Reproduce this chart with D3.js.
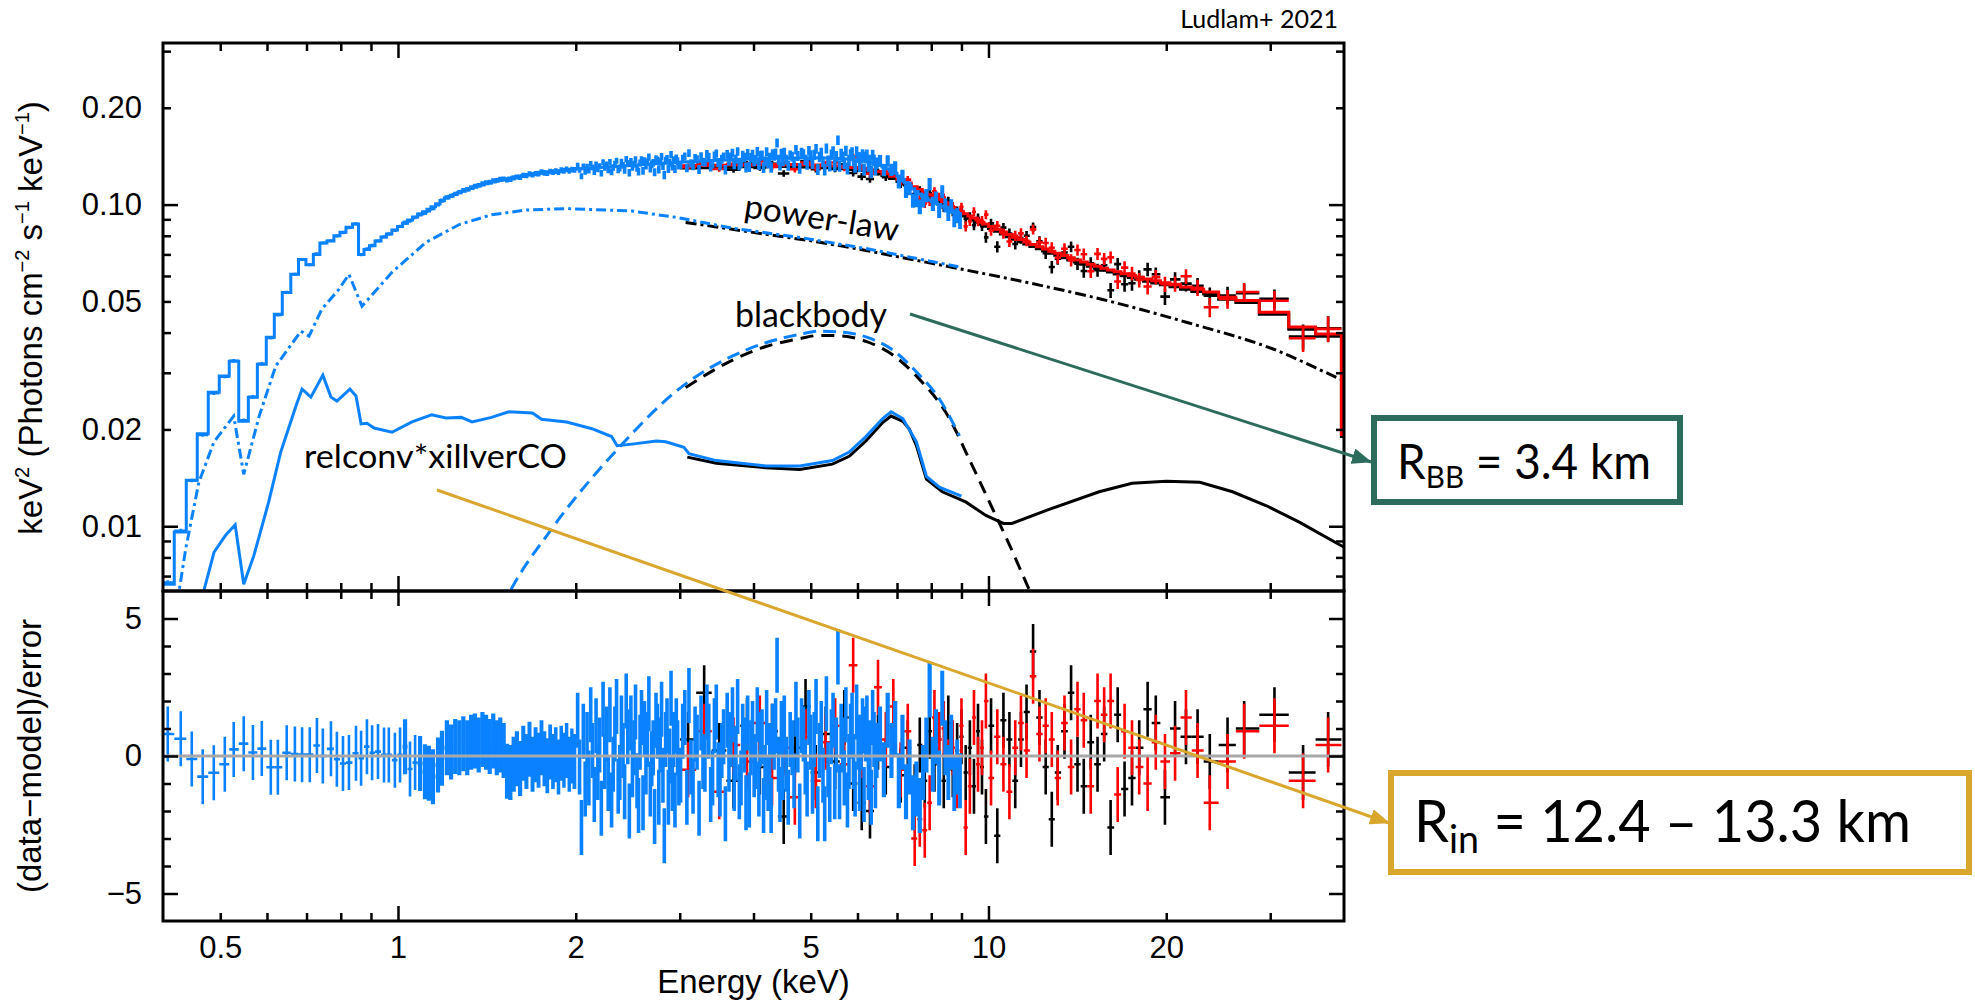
<!DOCTYPE html>
<html>
<head>
<meta charset="utf-8">
<script src="https://d3js.org/d3.v7.min.js"></script>
<style>
  body { margin: 0; background: #fff; }
  svg { display: block; }
  .ax text { font-family: "Liberation Sans", Arial, sans-serif; font-size: 31px; fill: #000; }
  .ax line { stroke: #000; stroke-width: 2.5; }
  .ax .domain { display: none; }
  .note { font-family: Lato, "Open Sans", sans-serif; fill: #000; }
</style>
</head>
<body>
<svg id="chart" width="1975" height="1001"></svg>
<script>

// ---- NICER (blue): bin energies (keV), model (keV^2 photons/cm^2/s/keV), error (%), residual (sigma)
const nicerE = [
  0.4075, 0.4287, 0.4475, 0.467, 0.4876, 0.509, 0.527, 0.548, 0.568, 0.588,
  0.609, 0.626, 0.648, 0.669, 0.688, 0.709, 0.729, 0.746, 0.770, 0.788,
  0.807, 0.826, 0.849, 0.866, 0.886, 0.904, 0.925, 0.947, 0.965, 0.988,
  1.008, 1.028, 1.048, 1.069, 1.090, 1.111, 1.128, 1.146, 1.169, 1.187,
  1.21, 1.23, 1.25, 1.27, 1.29, 1.31, 1.33, 1.35, 1.37, 1.39,
  1.41, 1.43, 1.45, 1.47, 1.49, 1.51, 1.53, 1.55, 1.57, 1.59,
  1.61, 1.63, 1.65, 1.67, 1.69, 1.71, 1.73, 1.75, 1.77, 1.79,
  1.81, 1.83, 1.85, 1.87, 1.89, 1.91, 1.93, 1.95, 1.97, 1.99,
  2.015, 2.030, 2.045, 2.060, 2.075, 2.090, 2.105, 2.120, 2.135, 2.150,
  2.165, 2.180, 2.195, 2.210, 2.225, 2.240, 2.255, 2.270, 2.285, 2.300,
  2.315, 2.330, 2.345, 2.360, 2.375, 2.390, 2.405, 2.420, 2.435, 2.450,
  2.465, 2.480, 2.495, 2.510, 2.525, 2.540, 2.555, 2.570, 2.585, 2.600,
  2.615, 2.630, 2.645, 2.660, 2.675, 2.690, 2.705, 2.720, 2.735, 2.750,
  2.765, 2.780, 2.795, 2.810, 2.825, 2.840, 2.855, 2.870, 2.885, 2.900,
  2.915, 2.930, 2.945, 2.960, 2.975, 2.990,
  3.010, 3.035, 3.060, 3.085, 3.110, 3.135, 3.160, 3.185, 3.210, 3.235,
  3.260, 3.285, 3.310, 3.335, 3.360, 3.385, 3.410, 3.435, 3.460, 3.485,
  3.510, 3.535, 3.560, 3.585, 3.610, 3.635, 3.660, 3.685, 3.710, 3.735,
  3.760, 3.785, 3.810, 3.835, 3.860, 3.885, 3.910, 3.935, 3.960, 3.985,
  4.010, 4.035, 4.060, 4.085, 4.110, 4.135, 4.160, 4.185, 4.210, 4.235,
  4.260, 4.285, 4.310, 4.335, 4.360, 4.385, 4.410, 4.435, 4.460, 4.485,
  4.510, 4.545, 4.580, 4.615, 4.650, 4.685, 4.720, 4.755, 4.790, 4.825,
  4.860, 4.895, 4.930, 4.965, 5.000, 5.035, 5.070, 5.105, 5.140, 5.175,
  5.210, 5.245, 5.280, 5.315, 5.350, 5.385, 5.420, 5.455, 5.490, 5.525,
  5.560, 5.595, 5.630, 5.665, 5.700, 5.735, 5.770, 5.805, 5.840, 5.875,
  5.910, 5.945, 5.980, 6.015, 6.050, 6.085, 6.120, 6.155, 6.190, 6.225,
  6.260, 6.295, 6.330, 6.365, 6.400, 6.435, 6.470,
  6.55, 6.65, 6.75, 6.85, 6.95, 7.05, 7.15, 7.25, 7.35, 7.45, 7.55, 7.65, 7.75,
  7.85, 7.95, 8.05, 8.15, 8.25, 8.35, 8.45, 8.55, 8.65, 8.75, 8.85, 8.95
];
const nicerModel = [
  .0066, .0096, .0139, .0194, .0261, .0293, .0326, .0212, .0252, .0319,
  .0387, .0456, .0533, .0607, .0675, .0650, .0700, .0760, .0770, .0800,
  .0820, .0850, .0870, .0700, .0725, .0745, .0770, .0793, .0810, .0833,
  .0855, .0875, .0895, .0915, .0935, .0950, .0968, .0985, .1005, .1030,
  .1048, .1062, .1075, .1088, .1100, .1111, .1122, .1132, .1142, .1151,
  .1160, .1168, .1176, .1184, .1191, .1198, .1204, .1210, .1216, .1221,
  .1226, .1231, .1236, .1240, .1244, .1248, .1252, .1255, .1258, .1261,
  .1264, .1267, .1270, .1273, .1276, .1278, .1281, .1283, .1285, .1288,
  .1290, .1292, .1293, .1294, .1295, .1297, .1298, .1299, .1300, .1301,
  .1303, .1304, .1305, .1306, .1307, .1308, .1309, .1310, .1311, .1312,
  .1313, .1314, .1315, .1316, .1317, .1318, .1319, .1320, .1321, .1322,
  .1323, .1324, .1325, .1326, .1327, .1328, .1329, .1330, .1331, .1332,
  .1333, .1334, .1335, .1336, .1337, .1338, .1339, .1340, .1341, .1342,
  .1343, .1344, .1345, .1346, .1347, .1348, .1348, .1349, .1350, .1351,
  .1352, .1352, .1353, .1353, .1354, .1354,
  .1355, .1356, .1357, .1358, .1359, .1360, .1361, .1362, .1363, .1364,
  .1365, .1366, .1367, .1368, .1369, .1370, .1371, .1372, .1373, .1374,
  .1375, .1375, .1376, .1377, .1377, .1378, .1379, .1379, .1380, .1381,
  .1381, .1382, .1383, .1383, .1384, .1385, .1385, .1386, .1386, .1387,
  .1387, .1388, .1388, .1389, .1389, .1390, .1390, .1391, .1391, .1392,
  .1392, .1392, .1393, .1393, .1393, .1394, .1394, .1394, .1395, .1395,
  .1395, .1395, .1396, .1396, .1396, .1397, .1397, .1397, .1397, .1397,
  .1397, .1398, .1398, .1398, .1398, .1398, .1398, .1398, .1397, .1397,
  .1397, .1396, .1396, .1395, .1395, .1394, .1394, .1393, .1393, .1392,
  .1391, .1390, .1389, .1388, .1387, .1386, .1385, .1384, .1382, .1381,
  .1379, .1378, .1376, .1374, .1372, .1370, .1368, .1365, .1363, .1360,
  .1357, .1354, .1350, .1346, .1342, .1338, .1333,
  .1325, .1310, .1293, .1273, .1251, .1227, .1200, .1172, .1145, .1120, .1098, .1079, .1062,
  .1047, .1034, .1022, .1011, .1000, .0990, .0980, .0971, .0962, .0954, .0946, .0938
];
const nicerErr = [
  1.6, 1.4, 1.3, 1.2, 1.2, 1.2, 1.2, 1.4, 1.3, 1.2,
  1.2, 1.1, 1.1, 1.1, 1.1, 1.1, 1.1, 1.1, 1.1, 1.1,
  1.1, 1.1, 1.1, 1.2, 1.2, 1.2, 1.2, 1.2, 1.2, 1.2,
  1.2, 1.2, 1.3, 1.3, 1.3, 1.3, 1.3, 1.3, 1.3, 1.3,
  1.5, 1.5, 1.5, 1.5, 1.6, 1.6, 1.6, 1.6, 1.6, 1.7,
  1.7, 1.7, 1.7, 1.7, 1.8, 1.8, 1.8, 1.8, 1.8, 1.8,
  1.9, 1.9, 1.9, 1.9, 1.9, 1.9, 2.0, 2.0, 2.0, 2.0,
  2.0, 2.0, 2.0, 2.1, 2.1, 2.1, 2.1, 2.1, 2.1, 2.1,
  2.0, 2.0, 2.0, 2.0, 2.0, 2.1, 2.1, 2.1, 2.1, 2.1,
  2.1, 2.1, 2.2, 2.2, 2.2, 2.2, 2.2, 2.2, 2.3, 2.3,
  2.3, 2.3, 2.3, 2.3, 2.4, 2.4, 2.4, 2.4, 2.4, 2.4,
  2.5, 2.5, 2.5, 2.5, 2.5, 2.5, 2.6, 2.6, 2.6, 2.6,
  2.6, 2.6, 2.6, 2.7, 2.7, 2.7, 2.7, 2.7, 2.7, 2.7,
  2.8, 2.8, 2.8, 2.8, 2.8, 2.8, 2.8, 2.8, 2.8, 2.8,
  2.8, 2.8, 2.8, 2.8, 2.8, 2.8,
  2.8, 2.8, 2.9, 2.9, 2.9, 2.9, 2.9, 3.0, 3.0, 3.0,
  3.0, 3.0, 3.0, 3.1, 3.1, 3.1, 3.1, 3.1, 3.1, 3.2,
  3.2, 3.2, 3.2, 3.2, 3.2, 3.2, 3.3, 3.3, 3.3, 3.3,
  3.3, 3.3, 3.3, 3.3, 3.4, 3.4, 3.4, 3.4, 3.4, 3.4,
  3.4, 3.4, 3.5, 3.5, 3.5, 3.5, 3.5, 3.5, 3.5, 3.5,
  3.5, 3.5, 3.5, 3.5, 3.5, 3.5, 3.5, 3.5, 3.5, 3.5,
  3.5, 3.5, 3.5, 3.5, 3.5, 3.6, 3.6, 3.6, 3.6, 3.6,
  3.6, 3.6, 3.7, 3.7, 3.7, 3.7, 3.7, 3.7, 3.7, 3.8,
  3.8, 3.8, 3.8, 3.8, 3.8, 3.8, 3.8, 3.9, 3.9, 3.9,
  3.9, 3.9, 3.9, 3.9, 3.9, 4.0, 4.0, 4.0, 4.0, 4.0,
  4.0, 4.0, 4.0, 4.1, 4.1, 4.1, 4.1, 4.1, 4.1, 4.1,
  4.2, 4.2, 4.2, 4.2, 4.2, 4.2, 4.2,
  4.3, 4.3, 4.4, 4.4, 4.5, 4.5, 4.6, 4.6, 4.7, 4.7, 4.8, 4.8, 4.9,
  4.9, 5.0, 5.0, 5.1, 5.1, 5.2, 5.2, 5.3, 5.3, 5.4, 5.4, 5.5
];
const nicerResid = [
  .80, .63, -.11, -.75, -.61, -.30, .24, .45, .13, .27,
  -.41, -.41, .12, .07, .05, .05, .38, .00, .26, -.12,
  -.27, -.24, .10, -.08, .34, .12, .16, .04, .04, -.15,
  .04, .34, -.47, -.24, -.27, -.57, -.63, -.75, -.33, -.08,
  .30, .15, .35, .30, .45, .30, .50, .55, .40, .60,
  .50, .35, .55, .30, .40, .20, -.55, -.60, -.30, -.10,
  -.45, .10, -.20, .25, -.30, .05, -.15, .30, -.10, -.35,
  .15, -.20, .05, -.40, .10, -.15, .20, -.30, .00, -.20,
  1.3, -.4, -2.6, .9, -1.2, .6, -.8, 1.5, .2, -1.4,
  1.1, -.6, .4, -1.9, 1.7, -.2, .8, -1.0, 1.5, -1.6,
  -.3, .8, 1.8, -1.1, -.6, 1.2, .2, -1.3, 2.0, .7,
  -2.0, 1.2, -.5, .3, 1.6, -.9, -1.8, .5, 1.4, -1.7,
  1.0, -.4, .6, 1.9, -1.2, -.1, .3, -2.2, 1.3, .9,
  -1.5, .4, 1.7, -.7, -2.9, .6, 1.1, -1.5, .0, 2.1,
  -1.0, .6, -1.6, 1.1, .3, -.8,
  -.7, .9, 1.4, -1.5, 2.2, -.4, -1.1, .8, .5, -1.9,
  1.2, -.2, -.3, 1.6, .9, -1.4, -.8, 1.1, 1.6, -.5,
  -1.2, .2, .7, -2.1, 1.3, -.3, .6, 1.5, -1.0, .1,
  1.8, -1.3, -.8, .9, .4, -1.7, 1.2, -1.6, .3, 1.0,
  -.5, -.2, 1.5, -1.2, .6, .7, -1.8, -.6, 1.4, -1.0,
  .2, -1.8, .9, .5, 1.1, 3.3, -.3, -1.4, 1.0, -.6,
  1.2, -.3, -1.5, .6, .3, -.9, 1.7, .4, -2.0, 1.1,
  .8, -.4, -1.2, 1.4, .5, -1.1, .6, 1.8, -2.1, .2,
  1.0, -.7, -2.1, 1.9, -.5, -1.4, .7, 1.3, -1.3, .4,
  3.6, -1.3, .9, .4, -.8, 1.5, -1.6, -.2, .9, 1.3,
  -.2, -1.2, 1.6, .5, -1.0, .5, 1.1, -1.4, .8, 1.2,
  -.6, .3, -1.5, 1.4, .6, -.9, .2,
  .8, -.5, 1.3, .2, 1.0, -.9, .5, -1.3, -.4, -1.7, -1.2, -1.8, -.6,
  .4, 2.4, -.3, .7, -.8, 2.1, .3, -.6, .5, -1.0, -.4, -.9
];

// ---- NuSTAR FPMA (black) and FPMB (red): shared binning
const nustarE = [
  3.1, 3.3, 3.5, 3.7, 3.9, 4.1, 4.3, 4.5, 4.7, 4.9,
  5.1, 5.3, 5.5, 5.7, 5.9, 6.1, 6.3, 6.5, 6.7, 6.9,
  7.1, 7.3, 7.5, 7.65, 7.8, 7.95, 8.1, 8.25, 8.4, 8.55,
  8.7, 8.85, 9.0, 9.15, 9.3, 9.45, 9.6, 9.75, 9.9, 10.1,
  10.35, 10.6, 10.85, 11.1, 11.35, 11.6, 11.9, 12.2, 12.5, 12.8,
  13.1, 13.45, 13.8, 14.15, 14.5, 14.9, 15.3, 15.7, 16.1, 16.55,
  17.0, 17.5, 18.0, 18.6, 19.2, 19.9, 20.7, 21.6, 22.6, 23.7,
  25.4, 27.1, 30.5, 34.1, 37.6, 41.7
];
const nustarModel = [
  .1300, .1303, .1306, .1309, .1311, .1312, .1313, .1313, .1312, .1310,
  .1307, .1303, .1298, .1292, .1285, .1276, .1264, .1248, .1229, .1206,
  .1180, .1150, .1120, .1098, .1077, .1058, .1040, .1023, .1006, .0990,
  .0965, .0950, .0936, .0922, .0908, .0895, .0882, .0869, .0857, .0842,
  .0826, .0810, .0795, .0780, .0767, .0754, .0741, .0729, .0717, .0706,
  .0696, .0684, .0673, .0663, .0653, .0643, .0634, .0625, .0617, .0609,
  .0601, .0593, .0586, .0578, .0571, .0563, .0555, .0546, .0537, .0527,
  .0508, .0496, .0456, .0410, .0390, .0190
];
const nustarErr = [
  2.0, 2.0, 2.0, 2.1, 2.1, 2.1, 2.2, 2.2, 2.2, 2.3,
  2.3, 2.3, 2.4, 2.4, 2.4, 2.5, 2.5, 2.5, 2.6, 2.6,
  2.7, 2.7, 2.8, 2.8, 2.9, 2.9, 3.0, 3.0, 3.0, 3.1,
  3.1, 3.2, 3.2, 3.3, 3.3, 3.3, 3.4, 3.4, 3.5, 3.5,
  3.6, 3.6, 3.7, 3.7, 3.8, 3.8, 3.9, 3.9, 4.0, 4.1,
  4.1, 4.2, 4.3, 4.3, 4.4, 4.5, 4.6, 4.6, 4.7, 4.8,
  4.9, 5.0, 5.1, 5.2, 5.3, 5.4, 5.5, 5.7, 5.9, 6.1,
  6.6, 7.0, 7.8, 8.6, 9.5, 9.5
];
const fpmaResid = [
  .6, 2.3, .2, -.9, 1.1, -.4, .9, -2.2, .3, 1.8,
  -.6, .8, -.2, 1.4, -1.0, -1.7, -2.0, .5, -.4, 1.0,
  -.7, .3, -1.3, .4, -.9, .9, -.3, .6, -.9, 1.2,
  -.5, .2, .7, -.6, .3, -1.1, .9, -.4, -2.2, 1.1,
  -2.9, 1.3, .6, -.9, .6, 1.6, 3.8, 1.4, -.4, -2.3,
  -.6, .9, 2.3, -.3, -1.1, .5, -.3, .8, -2.6, 1.5,
  -1.2, -.8, .3, 1.7, 1.2, -1.5, 1.0, .7, .7, -.2,
  .4, 1.0, 1.5, -.6, .6, 0
];
const fpmbResid = [
  -.5, .9, -1.3, .4, -.2, 1.2, -.8, .3, -1.5, .7,
  -.9, .5, 1.1, -.3, 3.3, .2, -1.1, 2.5, .6, 1.8,
  -.5, .9, -3.0, -2.3, -2.7, -1.7, 1.4, .6, 1.0, -.4,
  .3, -.9, 1.1, -2.6, -1.1, 1.4, -.3, .3, 2.0, -.8,
  .7, -.3, -1.3, .3, 1.2, .2, 2.9, .8, 1.1, .6,
  -.8, 1.2, -.4, 1.7, 1.3, -1.1, 2.0, 1.5, 2.0, -1.4,
  .9, .3, -.4, -1.0, .5, -.2, .1, 1.4, .2, -1.7,
  -.2, .9, 1.1, -.9, .4, 0
];
const fpmbNorm = 1.015;

// ---- model components, [keV, keV^2 photons/cm^2/s/keV]
const nicerPowerlaw = [
  [0.415, .0050], [0.426, .0063], [0.437, .0085], [0.460, .0137], [0.488, .0183], [0.527, .0220],
  [0.548, .0145], [0.582, .0220], [0.621, .0315], [0.685, .0404], [0.707, .0390], [0.743, .0473],
  [0.794, .0545], [0.826, .0607], [0.869, .0483], [0.977, .0616], [1.115, .0763], [1.27, .0867],
  [1.44, .0930], [1.65, .0962], [1.93, .0972], [2.49, .0955], [2.99, .0910], [3.68, .0845],
  [4.8, .0790], [6.2, .0730], [6.84, .0705], [8.93, .0640]
];
const nustarPowerlaw = [
  [3.07, .0880], [3.68, .0838], [4.2, .0808], [4.92, .0775], [6.2, .0720], [6.84, .0695],
  [8.92, .0632], [11.5, .0575], [15.6, .0507], [21.7, .0430], [30.4, .0355], [39.4, .0287], [41, .0278]
];
const nicerBbody = [
  [1.50, .0056], [1.55, .0063], [1.82, .0098], [2.37, .0176], [2.99, .0267], [3.68, .0338],
  [4.2, .0372], [4.79, .0395], [5.17, .0404], [5.6, .0402], [6.22, .0387], [6.9, .0352],
  [7.55, .0302], [8.3, .0245], [8.93, .0191]
];
const nustarBbody = [
  [3.07, .0270], [3.68, .0328], [4.2, .0362], [4.79, .0383], [5.17, .0392], [5.6, .0391],
  [6.22, .0375], [6.9, .0340], [7.55, .0293], [8.59, .0216], [9.3, .0160], [10.1, .0116],
  [10.9, .0086], [11.7, .0064], [12.1, .0056]
];
const nicerRefl = [
  [0.462, .0060], [0.469, .0063], [0.488, .0083], [0.511, .0094], [0.530, .0101], [0.548, .0066],
  [0.570, .0081], [0.604, .0119], [0.633, .0170], [0.672, .0237], [0.688, .0267], [0.712, .0252],
  [0.746, .0295], [0.770, .0252], [0.788, .0245], [0.829, .0267], [0.849, .0254], [0.866, .0208],
  [0.886, .0209], [0.911, .0202], [0.977, .0196], [1.056, .0211], [1.14, .0222], [1.206, .0217],
  [1.28, .0218], [1.335, .0211], [1.44, .0218], [1.54, .0227], [1.69, .0225], [1.75, .0215],
  [1.93, .0211], [2.13, .0201], [2.30, .0190], [2.35, .0178], [2.49, .0180], [2.74, .0184],
  [2.84, .0183], [3.05, .0176], [3.11, .0168], [3.46, .0160], [4.2, .0154], [4.79, .0154],
  [5.44, .0160], [5.81, .0170], [6.2, .0190], [6.62, .0216], [6.84, .0227], [7.16, .0216],
  [7.55, .0183], [7.85, .0143], [8.27, .0132], [9.0, .0124]
];
const nustarRefl = [
  [3.09, .0164], [3.46, .0157], [4.2, .0152], [4.79, .0150], [5.44, .0156], [5.81, .0165],
  [6.2, .0184], [6.62, .0210], [6.84, .0220], [7.16, .0212], [7.34, .0201], [7.55, .0178],
  [7.85, .0140], [8.35, .0128], [9.15, .0119], [9.9, .0108], [10.6, .0102], [10.96, .0102],
  [12.7, .0113], [15.4, .0128], [17.5, .0136], [20.0, .0138], [22.8, .0137], [25.9, .0128],
  [29.5, .0116], [33.6, .0103], [39.6, .0087], [41, .0084]
];

// ---- axes
const xTicksMajor = [1, 10];
const xTicksMinor = [0.5, 0.6, 0.7, 0.8, 0.9, 2, 3, 4, 5, 6, 7, 8, 9, 20, 30];
const xTickLabels = [0.5, 1, 2, 5, 10, 20];
const yTicksMajor = [0.01, 0.1];
const yTicksMinor = [0.007, 0.008, 0.009, 0.02, 0.03, 0.04, 0.05, 0.06, 0.07, 0.08, 0.09, 0.2, 0.3];
const yTickLabels = [0.01, 0.02, 0.05, 0.1, 0.2];
const resTicksMajor = [-5, 0, 5];
const resTicksMinor = [-4, -3, -2, -1, 1, 2, 3, 4];

const L = 163, R = 1344, T = 43, MID = 591, B = 921;
const BLUE = '#0a82ff', RED = '#ff0000', BLACK = '#000000';

const svg = d3.select('#chart');
const x = d3.scaleLog().domain([0.4, 40]).range([L, R]);
const yTop = d3.scaleLog().domain([0.00629, 0.318]).range([MID, T]);
const yRes = d3.scaleLinear().domain([-6, 6]).range([B, MID]);

const defs = svg.append('defs');
defs.append('clipPath').attr('id', 'clipTop')
  .append('rect').attr('x', L).attr('y', T).attr('width', R - L).attr('height', MID - T);
defs.append('clipPath').attr('id', 'clipRes')
  .append('rect').attr('x', L).attr('y', MID).attr('width', R - L).attr('height', B - MID);

const gTop = svg.append('g').attr('clip-path', 'url(#clipTop)');
const gRes = svg.append('g').attr('clip-path', 'url(#clipRes)');

// model components
const compLine = d3.line().x(d => x(d[0])).y(d => yTop(d[1]));
const smoothLine = d3.line().x(d => x(d[0])).y(d => yTop(d[1])).curve(d3.curveMonotoneX);
function comp(data, gen, color, dash) {
  gTop.append('path').attr('d', gen(data))
    .attr('fill', 'none').attr('stroke', color).attr('stroke-width', 3)
    .attr('stroke-dasharray', dash);
}
comp(nustarPowerlaw, smoothLine, BLACK, '11,4,3,4');
comp(nicerPowerlaw, compLine, BLUE, '10,4,3,4');
comp(nustarBbody, smoothLine, BLACK, '13,8');
comp(nicerBbody, smoothLine, BLUE, '13,7');
comp(nustarRefl, compLine, BLACK, null);
comp(nicerRefl, compLine, BLUE, null);

function binEdges(E) {
  const px = E.map(e => x(e));
  return px.map((p, i) => [
    i > 0 ? (px[i - 1] + p) / 2 : p - (px[1] - p) / 2,
    i < px.length - 1 ? (p + px[i + 1]) / 2 : p + (p - px[i - 1]) / 2
  ]);
}

function drawSet(E, model, err, resid, color, norm, dense) {
  const ed = binEdges(E);
  const bins = E.map((e, i) => {
    const m = model[i] * norm;
    const s = m * err[i] / 100;
    return { xc: x(e), l: ed[i][0], r: ed[i][1], m: m, s: s, d: m + resid[i] * s, res: resid[i] };
  });
  // closely packed NICER bins overlap into a solid band, as in the original plot
  const bw = b => {
    const w = b.r - b.l;
    if (!dense || w >= 5) return 2.6;
    return w < 2.6 ? 3.6 : Math.min(4.2, w * 1.3);
  };

  gTop.append('g').selectAll('path').data(bins).join('path')
    .attr('d', b => `M${b.l},${yTop(b.d)}H${b.r}M${b.xc},${yTop(b.d - b.s)}V${yTop(b.d + b.s)}`)
    .attr('fill', 'none').attr('stroke', color).attr('stroke-width', bw);

  const p = d3.path();
  p.moveTo(bins[0].l, dense ? MID + 5 : yTop(bins[0].m));
  bins.forEach(b => { p.lineTo(b.l, yTop(b.m)); p.lineTo(b.r, yTop(b.m)); });
  gTop.append('path').attr('d', p.toString())
    .attr('fill', 'none').attr('stroke', color).attr('stroke-width', 3);

  gRes.append('g').selectAll('path').data(bins).join('path')
    .attr('d', b => `M${b.l},${yRes(b.res)}H${b.r}M${b.xc},${yRes(b.res - 1)}V${yRes(b.res + 1)}`)
    .attr('fill', 'none').attr('stroke', color).attr('stroke-width', bw);
}

drawSet(nustarE, nustarModel, nustarErr, fpmaResid, BLACK, 1, false);
drawSet(nustarE, nustarModel, nustarErr, fpmbResid, RED, fpmbNorm, false);
drawSet(nicerE, nicerModel, nicerErr, nicerResid, BLUE, 1, true);

gRes.append('line').attr('x1', L).attr('x2', R).attr('y1', yRes(0)).attr('y2', yRes(0))
  .attr('stroke', '#a8a8a8').attr('stroke-width', 3);

// ticks
function tickSet(axis, pos, values, size) {
  svg.append('g').attr('class', 'ax').attr('transform', pos)
    .call(axis.tickValues(values).tickSize(size).tickFormat(''));
}
[[`translate(0,${T})`, 1], [`translate(0,${MID})`, -1], [`translate(0,${MID})`, 1], [`translate(0,${B})`, -1]]
  .forEach(([pos, dir]) => {
    tickSet(d3.axisBottom(x), pos, xTicksMinor, 8 * dir);
    tickSet(d3.axisBottom(x), pos, xTicksMajor, 15 * dir);
  });
tickSet(d3.axisLeft(yTop), `translate(${L},0)`, yTicksMinor, -8);
tickSet(d3.axisLeft(yTop), `translate(${L},0)`, yTicksMajor, -15);
tickSet(d3.axisRight(yTop), `translate(${R},0)`, yTicksMinor, -8);
tickSet(d3.axisRight(yTop), `translate(${R},0)`, yTicksMajor, -15);
tickSet(d3.axisLeft(yRes), `translate(${L},0)`, resTicksMinor, -8);
tickSet(d3.axisLeft(yRes), `translate(${L},0)`, resTicksMajor, -15);
tickSet(d3.axisRight(yRes), `translate(${R},0)`, resTicksMinor, -8);
tickSet(d3.axisRight(yRes), `translate(${R},0)`, resTicksMajor, -15);

// tick labels
svg.append('g').attr('class', 'ax').attr('transform', `translate(0,${B})`)
  .call(d3.axisBottom(x).tickValues(xTickLabels).tickSize(0).tickPadding(15).tickFormat(d3.format('')))
  .selectAll('line').remove();
svg.append('g').attr('class', 'ax').attr('transform', `translate(${L},0)`)
  .call(d3.axisLeft(yTop).tickValues(yTickLabels).tickSize(0).tickPadding(21)
    .tickFormat(d => d.toFixed(2)))
  .selectAll('line').remove();
svg.append('g').attr('class', 'ax').attr('transform', `translate(${L},0)`)
  .call(d3.axisLeft(yRes).tickValues(resTicksMajor).tickSize(0).tickPadding(21)
    .tickFormat(d => d < 0 ? '\u2212' + Math.abs(d) : String(d)))
  .selectAll('line').remove();

// frames
[[T, MID], [MID, B]].forEach(([a, b]) => {
  svg.append('rect').attr('x', L).attr('y', a).attr('width', R - L).attr('height', b - a)
    .attr('fill', 'none').attr('stroke', '#000').attr('stroke-width', 3);
});

// axis titles
const axisFont = '"Liberation Sans", Arial, sans-serif';
const yt = svg.append('text').attr('transform', 'translate(42,318) rotate(-90)')
  .attr('text-anchor', 'middle').attr('font-family', axisFont).attr('font-size', 33);
[['keV', 0], ['2', 1], [' (Photons cm', 0], ['\u22122', 1], [' s', 0], ['\u22121', 1],
 [' keV', 0], ['\u22121', 1], [')', 0]].forEach(([t, sup], i, arr) => {
  const prevSup = i > 0 && arr[i - 1][1];
  yt.append('tspan').text(t)
    .attr('font-size', sup ? 20 : 33)
    .attr('dy', sup ? -13 : (prevSup ? 13 : 0));
});
svg.append('text').attr('transform', 'translate(41,756) rotate(-90)')
  .attr('text-anchor', 'middle').attr('font-family', axisFont).attr('font-size', 33)
  .text('(data\u2212model)/error');
svg.append('text').attr('x', (L + R) / 2).attr('y', 993)
  .attr('text-anchor', 'middle').attr('font-family', axisFont).attr('font-size', 33)
  .text('Energy (keV)');

// annotations
svg.append('text').attr('class', 'note').attr('x', 1338).attr('y', 28)
  .attr('text-anchor', 'end').attr('font-size', 25).text('Ludlam+ 2021');
svg.append('text').attr('class', 'note').attr('transform', 'translate(743,217) rotate(9)')
  .attr('font-size', 33).attr('textLength', 156).attr('lengthAdjust', 'spacingAndGlyphs')
  .text('power-law');
svg.append('text').attr('class', 'note').attr('x', 735).attr('y', 327)
  .attr('font-size', 34).attr('textLength', 152).attr('lengthAdjust', 'spacingAndGlyphs')
  .text('blackbody');
svg.append('text').attr('class', 'note').attr('x', 304).attr('y', 468)
  .attr('font-size', 33).attr('textLength', 263).attr('lengthAdjust', 'spacingAndGlyphs')
  .text('relconv*xillverCO');

const GREEN = '#2d6b5d', GOLD = '#d9a62e';
function arrowHead(id, color) {
  defs.append('marker').attr('id', id).attr('markerUnits', 'userSpaceOnUse')
    .attr('markerWidth', 20).attr('markerHeight', 16).attr('refX', 19).attr('refY', 8)
    .attr('orient', 'auto')
    .append('path').attr('d', 'M0,0L20,8L0,16Z').attr('fill', color);
}
arrowHead('arrGreen', GREEN);
arrowHead('arrGold', GOLD);
svg.append('line').attr('x1', 910).attr('y1', 314).attr('x2', 1371).attr('y2', 462)
  .attr('stroke', GREEN).attr('stroke-width', 3).attr('marker-end', 'url(#arrGreen)');
svg.append('line').attr('x1', 437).attr('y1', 490).attr('x2', 1389).attr('y2', 823)
  .attr('stroke', GOLD).attr('stroke-width', 3).attr('marker-end', 'url(#arrGold)');

svg.append('rect').attr('x', 1374).attr('y', 418).attr('width', 306).attr('height', 84)
  .attr('fill', '#fff').attr('stroke', GREEN).attr('stroke-width', 6);
const t1 = svg.append('text').attr('class', 'note').attr('x', 1397).attr('y', 479).attr('font-size', 48)
  .attr('textLength', 254).attr('lengthAdjust', 'spacingAndGlyphs');
t1.append('tspan').text('R');
t1.append('tspan').attr('font-size', 31).attr('dy', 9).text('BB');
t1.append('tspan').attr('dy', -9).text(' = 3.4 km');

svg.append('rect').attr('x', 1391).attr('y', 773).attr('width', 578).attr('height', 99)
  .attr('fill', '#fff').attr('stroke', GOLD).attr('stroke-width', 6);
const t2 = svg.append('text').attr('class', 'note').attr('x', 1414).attr('y', 842).attr('font-size', 58)
  .attr('textLength', 497).attr('lengthAdjust', 'spacingAndGlyphs');
t2.append('tspan').text('R');
t2.append('tspan').attr('font-size', 39).attr('dy', 11).text('in');
t2.append('tspan').attr('dy', -11).text(' = 12.4 \u2013 13.3 km');

</script>
</body>
</html>
